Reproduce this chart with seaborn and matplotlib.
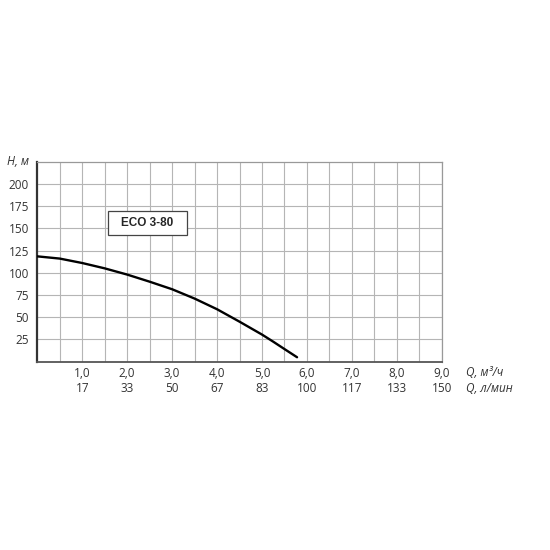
import numpy as np
import seaborn as sns
import matplotlib.pyplot as plt
from matplotlib.patches import Rectangle
import matplotlib.transforms as mtransforms

# pump curve ECO 3-80
q_m3h = [0.0, 0.5, 1.0, 1.5, 2.0, 2.5, 3.0, 3.5, 4.0, 4.5, 5.0, 5.25, 5.5, 5.78]
head_m = [118.5, 116, 111, 105, 98, 90, 81.5, 71, 59, 45, 30.5, 22.5, 14.2, 5]

q_ticks = [1, 2, 3, 4, 5, 6, 7, 8, 9]
q_tick_labels = ["1,0", "2,0", "3,0", "4,0", "5,0", "6,0", "7,0", "8,0", "9,0"]
lpm_labels = ["17", "33", "50", "67", "83", "100", "117", "133", "150"]
h_ticks = [25, 50, 75, 100, 125, 150, 175, 200]

sns.set_style("white")
plt.rcParams['font.family'] = ['Open Sans', 'DejaVu Sans']

fig = plt.figure(figsize=(5.5, 5.5), dpi=100)
ax = fig.add_axes([0.0678, 0.3424, 0.7354, 0.3636])

sns.lineplot(x=q_m3h, y=head_m, ax=ax, color="black", linewidth=1.7, zorder=3)

fs = 8.5
ax.set_xlim(0, 9)
ax.set_ylim(0, 225)
ax.set_xticks(q_ticks)
ax.set_xticklabels(q_tick_labels, fontsize=fs, color="#333333")
ax.set_xticks(np.arange(0.5, 9, 0.5), minor=True)
ax.set_yticks(h_ticks)
ax.set_yticklabels([str(v) for v in h_ticks], fontsize=fs, color="#333333")
ax.tick_params(axis="both", which="both", length=0)
ax.tick_params(axis="x", pad=4)
ax.tick_params(axis="y", pad=6)

ax.grid(True, which="both", color="#b5b5b5", linewidth=0.8)
ax.set_axisbelow(True)

for side in ["top", "right"]:
    ax.spines[side].set_color("#999999")
    ax.spines[side].set_linewidth(0.9)
ax.spines["left"].set_color("#333333")
ax.spines["left"].set_linewidth(1.6)
ax.spines["bottom"].set_color("#555555")
ax.spines["bottom"].set_linewidth(1.3)

# second row of x labels: flow in l/min
trans = mtransforms.blended_transform_factory(ax.transData, ax.transAxes)
for xv, lab in zip(q_ticks, lpm_labels):
    ax.text(xv, -0.1365, lab, transform=trans, ha="center", va="center",
            fontsize=fs, color="#333333")

ax.text(1.06, -0.052, "Q, м³/ч", transform=ax.transAxes, ha="left", va="center",
        fontsize=fs, style="italic", color="#333333")
ax.text(1.06, -0.1365, "Q, л/мин", transform=ax.transAxes, ha="left", va="center",
        fontsize=fs, style="italic", color="#333333")
ax.text(-0.021, 1.0, "H, м", transform=ax.transAxes, ha="right", va="center",
        fontsize=fs, style="italic", color="#333333")

# model name box
ax.add_patch(Rectangle((1.58, 142.8), 1.75, 26.5, facecolor="white",
                       edgecolor="#444444", linewidth=0.9, zorder=4))
ax.text(2.455, 156, "ECO 3-80", ha="center", va="center", fontsize=8.5,
        fontweight="bold", family=["Liberation Sans", "DejaVu Sans"], zorder=5)

fig.savefig("out.png", dpi=100, facecolor="white")
